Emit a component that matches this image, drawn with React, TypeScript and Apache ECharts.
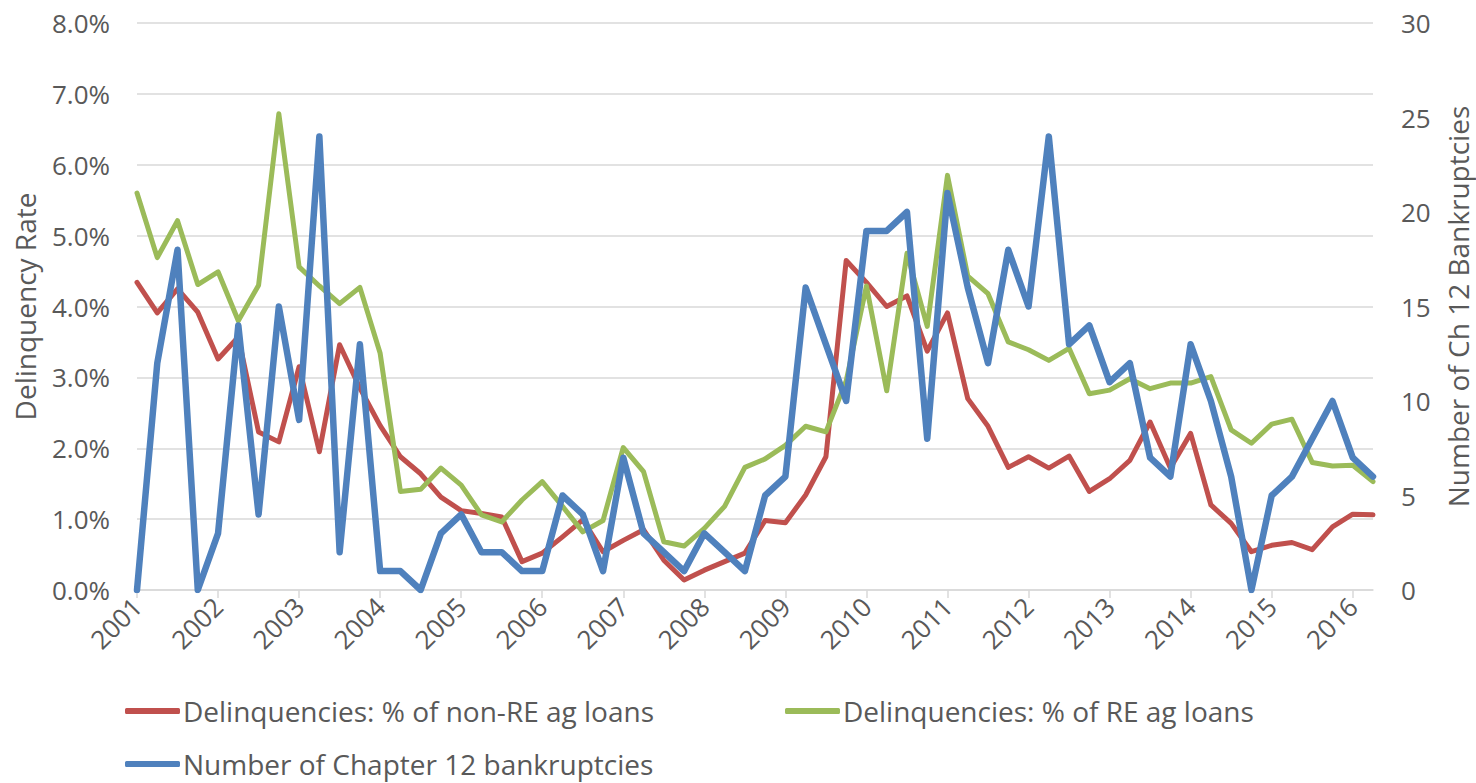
import React, { useEffect, useRef } from "react";
import * as echarts from "echarts";

const years = [2001, 2002, 2003, 2004, 2005, 2006, 2007, 2008, 2009, 2010, 2011, 2012, 2013, 2014, 2015, 2016];
const categories: string[] = [];
years.forEach((y) => {
  [1, 2, 3, 4].forEach((q) => {
    if (y === 2016 && q > 2) return;
    categories.push(`${y}Q${q}`);
  });
});

// Delinquencies: % of non-RE ag loans
const nonRE = [
  4.34, 3.91, 4.25, 3.92, 3.26, 3.57, 2.23, 2.09, 3.15, 1.95, 3.46, 2.85, 2.32, 1.88, 1.64, 1.31,
  1.12, 1.08, 1.03, 0.4, 0.52, 0.75, 0.99, 0.54, 0.7, 0.85, 0.42, 0.14, 0.28, 0.4, 0.52, 0.98,
  0.95, 1.34, 1.88, 4.65, 4.34, 4.0, 4.15, 3.37, 3.91, 2.7, 2.31, 1.73, 1.88, 1.72, 1.89, 1.39,
  1.57, 1.83, 2.37, 1.72, 2.21, 1.2, 0.94, 0.54, 0.63, 0.67, 0.57, 0.89, 1.07, 1.06,
];

// Delinquencies: % of RE ag loans
const re = [
  5.6, 4.69, 5.21, 4.31, 4.49, 3.8, 4.3, 6.72, 4.56, 4.29, 4.04, 4.27, 3.34, 1.39, 1.42, 1.72,
  1.48, 1.06, 0.96, 1.27, 1.53, 1.18, 0.82, 0.98, 2.01, 1.67, 0.68, 0.62, 0.87, 1.18, 1.73, 1.85,
  2.04, 2.31, 2.23, 2.95, 4.29, 2.81, 4.75, 3.72, 5.85, 4.43, 4.18, 3.5, 3.39, 3.24, 3.41, 2.77,
  2.82, 2.98, 2.84, 2.92, 2.92, 3.01, 2.26, 2.07, 2.34, 2.41, 1.8, 1.75, 1.76, 1.53,
];

// Number of Chapter 12 bankruptcies
const bankruptcies = [
  0, 12, 18, 0, 3, 14, 4, 15, 9, 24, 2, 13, 1, 1, 0, 3,
  4, 2, 2, 1, 1, 5, 4, 1, 7, 3, 2, 1, 3, 2, 1, 5,
  6, 16, 13, 10, 19, 19, 20, 8, 21, 16, 12, 18, 15, 24, 13, 14,
  11, 12, 7, 6, 13, 10, 6, 0, 5, 6, 8, 10, 7, 6,
];

const seriesNames = [
  "Delinquencies: % of non-RE ag loans",
  "Delinquencies: % of RE ag loans",
  "Number of Chapter 12 bankruptcies",
];
const colors = ["#C0504D", "#9BBB59", "#4F81BD"];

const FONT = "'Open Sans', sans-serif";
const TXT = "#595959";

export default function App() {
  const ref = useRef<HTMLDivElement>(null);
  useEffect(() => {
    if (!ref.current) return;
    const chart = echarts.init(ref.current, undefined, { renderer: "svg" });
    const legendCommon = {
      orient: "horizontal" as const,
      itemWidth: 55,
      itemHeight: 6,
      itemGap: 4,
      icon: "roundRect",
      textStyle: { fontFamily: FONT, fontSize: 28, color: TXT, padding: [0, 0, 0, -2] },
      padding: 0,
    };
    chart.setOption({
      animation: false,
      textStyle: { fontFamily: FONT },
      grid: {
        left: 137,
        right: 103,
        top: 23,
        bottom: 193,
        containLabel: false,
        outerBoundsMode: "none",
      },
      legend: [
        { ...legendCommon, data: [seriesNames[0]], left: 125, top: 697 },
        { ...legendCommon, data: [seriesNames[1]], left: 785, top: 697 },
        { ...legendCommon, data: [seriesNames[2]], left: 125, top: 750 },
      ],
      xAxis: {
        type: "category",
        data: categories,
        boundaryGap: false,
        axisLine: { lineStyle: { color: "#D9D9D9", width: 1.5 } },
        axisTick: { interval: 3, length: 8, lineStyle: { color: "#D9D9D9", width: 1.5 } },
        axisLabel: {
          interval: 3,
          rotate: 45,
          margin: 12,
          fontSize: 26,
          color: TXT,
          fontFamily: FONT,
          formatter: (v: string) => v.slice(0, 4),
        },
        splitLine: { show: false },
      },
      yAxis: [
        {
          type: "value",
          min: 0,
          max: 8,
          interval: 1,
          name: "Delinquency Rate",
          nameLocation: "middle",
          nameGap: 98,
          nameTextStyle: { fontSize: 28, color: TXT, fontFamily: FONT },
          axisLine: { show: false },
          axisTick: { show: false },
          axisLabel: {
            fontSize: 26,
            color: TXT,
            fontFamily: FONT,
            margin: 27,
            formatter: (v: number) => v.toFixed(1) + "%",
          },
          splitLine: { lineStyle: { color: "#D9D9D9", width: 1.5 } },
        },
        {
          type: "value",
          min: 0,
          max: 30,
          interval: 5,
          name: "Number of Ch 12 Bankruptcies",
          nameLocation: "middle",
          nameGap: 71,
          nameRotate: 90,
          nameTextStyle: { fontSize: 28, color: TXT, fontFamily: FONT },
          axisLine: { show: false },
          axisTick: { show: false },
          axisLabel: { fontSize: 26, color: TXT, fontFamily: FONT, margin: 28 },
          splitLine: { show: false },
        },
      ],
      series: [
        {
          name: seriesNames[0],
          type: "line",
          data: nonRE,
          yAxisIndex: 0,
          showSymbol: false,
          symbol: "none",
          lineStyle: { color: colors[0], width: 5, cap: "round", join: "round" },
          itemStyle: { color: colors[0] },
        },
        {
          name: seriesNames[1],
          type: "line",
          data: re,
          yAxisIndex: 0,
          showSymbol: false,
          symbol: "none",
          lineStyle: { color: colors[1], width: 5, cap: "round", join: "round" },
          itemStyle: { color: colors[1] },
        },
        {
          name: seriesNames[2],
          type: "line",
          data: bankruptcies,
          yAxisIndex: 1,
          showSymbol: false,
          symbol: "none",
          lineStyle: { color: colors[2], width: 6.5, cap: "round", join: "round" },
          itemStyle: { color: colors[2] },
        },
      ],
    });
    return () => chart.dispose();
  }, []);
  return (
    <div
      ref={ref}
      style={{ position: "fixed", left: 0, top: 0, width: 1476, height: 783, background: "#fff" }}
    />
  );
}
